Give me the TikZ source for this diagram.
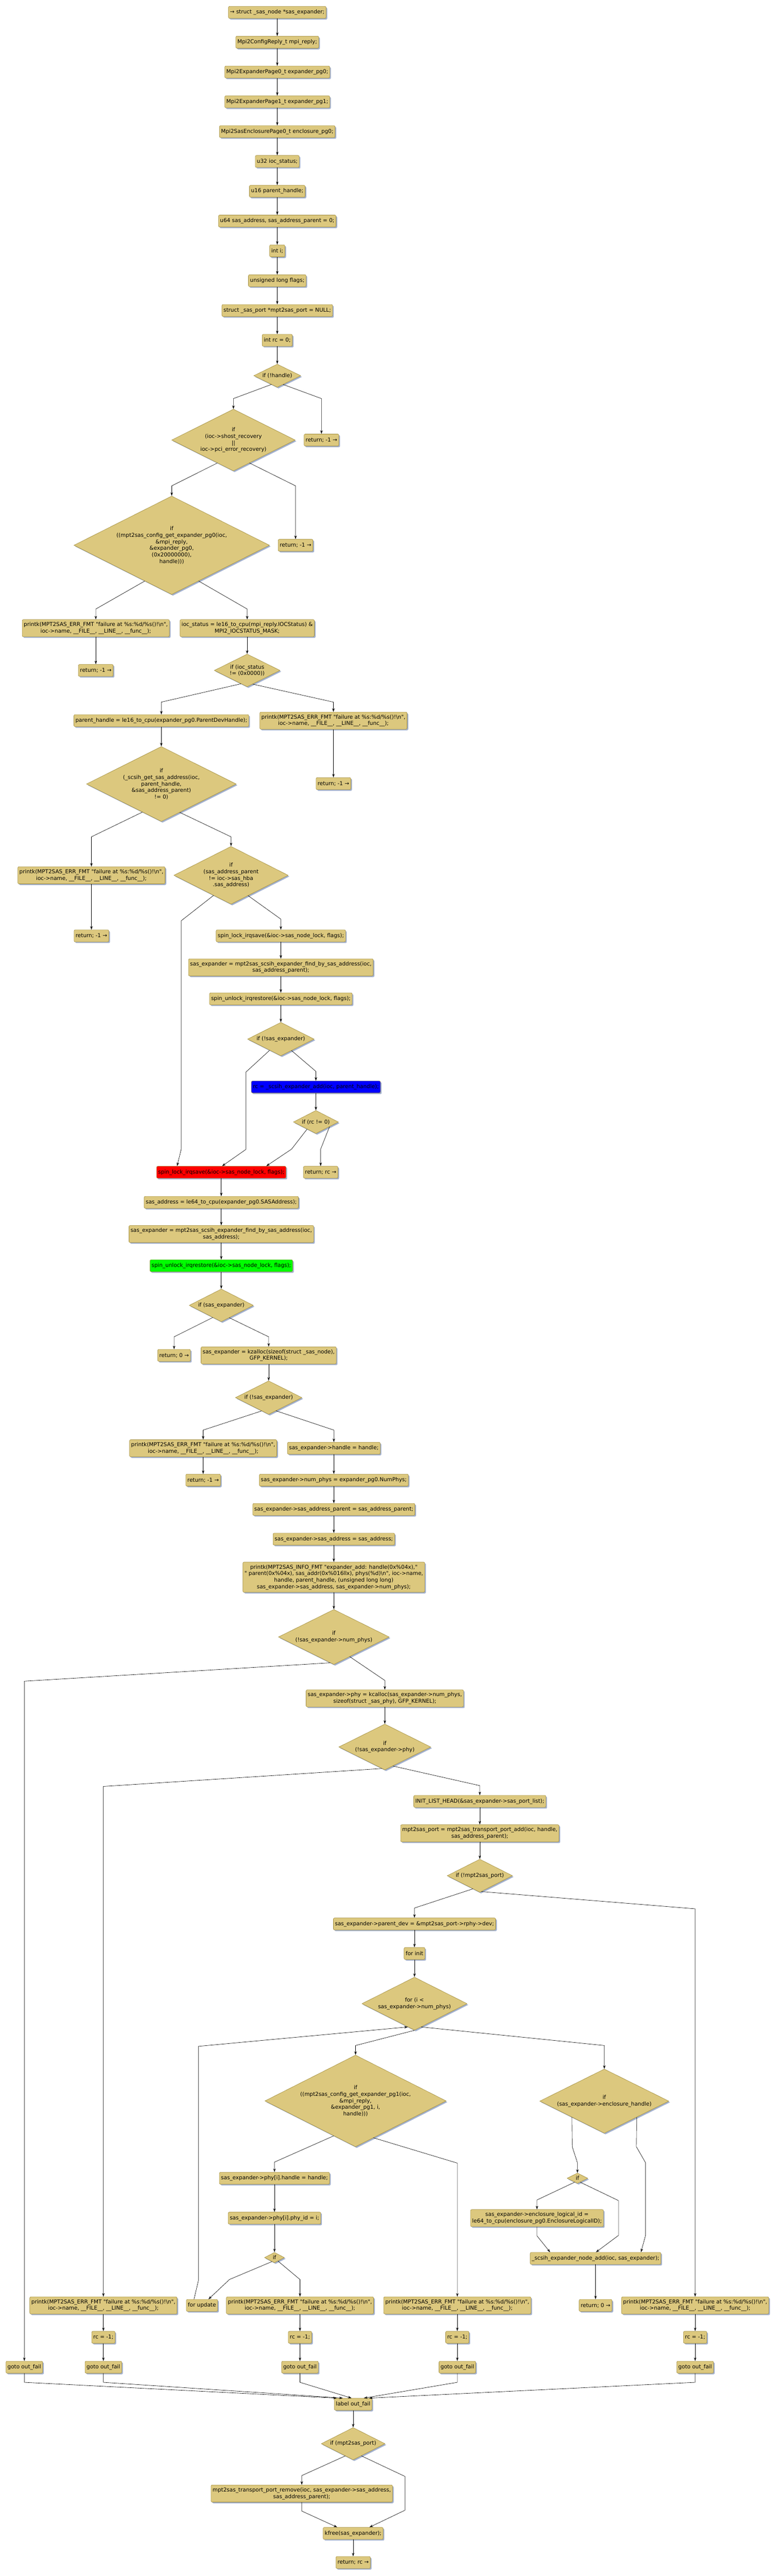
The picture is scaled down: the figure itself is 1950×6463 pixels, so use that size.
\documentclass[tikz,border=0pt]{standalone}
\usepackage{fontspec}
\newfontfamily\flowfont{DejaVu Sans}[Ligatures=ResetAll]
\usetikzlibrary{arrows.meta,positioning,shapes.geometric,shadows}
\definecolor{khaki}{RGB}{220,200,126}
\definecolor{khakiline}{RGB}{160,140,60}
\definecolor{shade}{RGB}{163,177,206}

\newcommand{\errmsg}{printk(MPT2SAS\_ERR\_FMT "failure at \%s:\%d/\%s()!\textbackslash n",\\ioc->name, \_\_FILE\_\_, \_\_LINE\_\_, \_\_func\_\_);}

\begin{document}
\begin{tikzpicture} [x=1pt,y=-1pt,->,>={Stealth[length=9pt,width=6pt]},line width=0.8pt,node distance=44pt,
  font=\flowfont\fontsize{13.5}{16.4}\selectfont,
  stmt/.style={rectangle,rounded corners=3pt,draw=khakiline,fill=khaki,minimum height=30pt,inner xsep=4pt,inner ysep=6.5pt,align=center,
    drop shadow={shadow xshift=3pt,shadow yshift=-3pt,fill=shade,opacity=1}},
  cond/.style={diamond,aspect=2,draw=khakiline,fill=khaki,inner sep=0pt,align=center,
    drop shadow={shadow xshift=3pt,shadow yshift=-3pt,fill=shade,opacity=1}}]

  \useasboundingbox (0,0) rectangle (1950,6463);

  \node[stmt] (b1) at (696,31) {→ struct \_sas\_node *sas\_expander;};
  \node[stmt] (b2) [below=of b1] {Mpi2ConfigReply\_t mpi\_reply;};
  \node[stmt] (b3) [below=of b2] {Mpi2ExpanderPage0\_t expander\_pg0;};
  \node[stmt] (b4) [below=of b3] {Mpi2ExpanderPage1\_t expander\_pg1;};
  \node[stmt] (b5) [below=of b4] {Mpi2SasEnclosurePage0\_t enclosure\_pg0;};
  \node[stmt] (b6) [below=of b5] {u32 ioc\_status;};
  \node[stmt] (b7) [below=of b6] {u16 parent\_handle;};
  \node[stmt] (b8) [below=of b7] {u64 sas\_address, sas\_address\_parent = 0;};
  \node[stmt] (b9) [below=of b8] {int i;};
  \node[stmt] (b10) [below=of b9] {unsigned long flags;};
  \node[stmt] (b11) [below=of b10] {struct \_sas\_port *mpt2sas\_port = NULL;};
  \node[stmt] (b12) [below=of b11] {int rc = 0;};
  \node[cond] (d1) [below=of b12, minimum width=118pt, minimum height=58pt] {if (!handle)};

  \node[cond, minimum width=310pt, minimum height=155pt] (d2) at (586,1104) {if\\(ioc->shost\_recovery\\||\\ioc->pci\_error\_recovery)};
  \node[stmt] (r1) at (807,1104) {return; -1 →};
  \node[cond, minimum width=491pt, minimum height=247pt] (d3) at (431,1368) {if\\((mpt2sas\_config\_get\_expander\_pg0(ioc,\\\&mpi\_reply,\\\&expander\_pg0,\\(0x20000000),\\handle)))};
  \node[stmt] (r2) at (742,1368) {return; -1 →};
  \node[stmt] (p1) at (240.5,1576) {\errmsg};
  \node[stmt] (s1) at (620.5,1576) {ioc\_status = le16\_to\_cpu(mpi\_reply.IOCStatus) \&\\MPI2\_IOCSTATUS\_MASK;};
  \node[stmt] (r3) at (240.5,1682) {return; -1 →};
  \node[cond, minimum width=165pt, minimum height=82pt] (d4) at (620.5,1682) {if (ioc\_status\\!= (0x0000))};
  \node[stmt] (s2) at (405,1808) {parent\_handle = le16\_to\_cpu(expander\_pg0.ParentDevHandle);};
  \node[stmt] (p2) at (837,1808) {\errmsg};
  \node[cond, minimum width=376pt, minimum height=188pt] (d5) at (405,1967) {if\\(\_scsih\_get\_sas\_address(ioc,\\parent\_handle,\\\&sas\_address\_parent)\\!= 0)};
  \node[stmt] (r4) at (837,1966) {return; -1 →};
  \node[stmt] (p3) at (229.5,2196) {\errmsg};
  \node[cond, minimum width=287pt, minimum height=145pt] (d6) at (580,2196) {if\\(sas\_address\_parent\\!= ioc->sas\_hba\\.sas\_address)};
  \node[stmt] (r5) at (229.5,2348) {return; -1 →};
  \node[stmt] (s3) at (705,2348) {spin\_lock\_irqsave(\&ioc->sas\_node\_lock, flags);};
  \node[stmt] (s4) at (705,2427) {sas\_expander = mpt2sas\_scsih\_expander\_find\_by\_sas\_address(ioc,\\sas\_address\_parent);};
  \node[stmt] (s5) at (705,2506) {spin\_unlock\_irqrestore(\&ioc->sas\_node\_lock, flags);};
  \node[cond, minimum width=167pt, minimum height=84pt] (d7) at (705,2607) {if (!sas\_expander)};
  \node[stmt, fill=blue] (s6) at (793,2727) {rc = \_scsih\_expander\_add(ioc, parent\_handle);};
  \node[cond, minimum width=113pt, minimum height=58pt] (d8) at (793,2815) {if (rc != 0)};
  \node[stmt, fill=red] (s7) at (555.5,2941) {spin\_lock\_irqsave(\&ioc->sas\_node\_lock, flags);};
  \node[stmt] (r6) at (805,2941) {return; rc →};
  \node[stmt] (s8) at (555.5,3016.5) {sas\_address = le64\_to\_cpu(expander\_pg0.SASAddress);};
  \node[stmt] (s9) at (555.5,3096) {sas\_expander = mpt2sas\_scsih\_expander\_find\_by\_sas\_address(ioc,\\sas\_address);};
  \node[stmt, fill=green] (s10) at (555.5,3175.5) {spin\_unlock\_irqrestore(\&ioc->sas\_node\_lock, flags);};
  \node[cond, minimum width=161pt, minimum height=82pt] (d9) at (555.5,3275) {if (sas\_expander)};
  \node[stmt] (r7) at (437,3400.5) {return; 0 →};
  \node[stmt] (s11) at (674.5,3400.5) {sas\_expander = kzalloc(sizeof(struct \_sas\_node),\\GFP\_KERNEL);};
  \node[cond, minimum width=167pt, minimum height=84pt] (d10) at (674.5,3506.5) {if (!sas\_expander)};
  \node[stmt] (p4) at (510,3633.5) {\errmsg};
  \node[stmt] (s12) at (838,3633.5) {sas\_expander->handle = handle;};
  \node[stmt] (r8) at (510,3713.5) {return; -1 →};
  \node[stmt] (s13) at (838,3713.5) {sas\_expander->num\_phys = expander\_pg0.NumPhys;};
  \node[stmt] (s14) at (838,3787) {sas\_expander->sas\_address\_parent = sas\_address\_parent;};
  \node[stmt] (s15) at (838,3861.5) {sas\_expander->sas\_address = sas\_address;};
  \node[stmt] (s16) at (838,3957) {printk(MPT2SAS\_INFO\_FMT "expander\_add: handle(0x\%04x),"\\" parent(0x\%04x), sas\_addr(0x\%016llx), phys(\%d)\textbackslash n", ioc->name,\\handle, parent\_handle, (unsigned long long)\\sas\_expander->sas\_address, sas\_expander->num\_phys);};
  \node[cond, minimum width=278pt, minimum height=138pt] (d11) at (838,4107) {if\\(!sas\_expander->num\_phys)};
  \node[stmt] (s17) at (966,4261) {sas\_expander->phy = kcalloc(sas\_expander->num\_phys,\\sizeof(struct \_sas\_phy), GFP\_KERNEL);};
  \node[cond, minimum width=231pt, minimum height=115pt] (d12) at (966,4383) {if\\(!sas\_expander->phy)};
  \node[stmt] (s18) at (1204.5,4519.5) {INIT\_LIST\_HEAD(\&sas\_expander->sas\_port\_list);};
  \node[stmt] (s19) at (1204.5,4599.5) {mpt2sas\_port = mpt2sas\_transport\_port\_add(ioc, handle,\\sas\_address\_parent);};
  \node[cond, minimum width=164pt, minimum height=83pt] (d13) at (1204.5,4706) {if (!mpt2sas\_port)};
  \node[stmt] (s20) at (1040.5,4827) {sas\_expander->parent\_dev = \&mpt2sas\_port->rphy->dev;};
  \node[stmt] (s21) at (1040.5,4901) {for init};
  \node[cond, minimum width=264pt, minimum height=133pt] (d14) at (1040.5,5027) {for (i <\\sas\_expander->num\_phys)};
  \node[cond, minimum width=455pt, minimum height=230pt] (d15) at (892.5,5271) {if\\((mpt2sas\_config\_get\_expander\_pg1(ioc,\\\&mpi\_reply,\\\&expander\_pg1, i,\\handle)))};
  \node[cond, minimum width=324pt, minimum height=161pt] (d16) at (1517,5271.5) {if\\(sas\_expander->enclosure\_handle)};
  \node[stmt] (s22) at (689,5465) {sas\_expander->phy[i].handle = handle;};
  \node[cond, minimum width=52pt, minimum height=26pt] (d17) at (1449.5,5465) {if};
  \node[stmt] (s23) at (689,5565) {sas\_expander->phy[i].phy\_id = i;};
  \node[stmt] (s24) at (1348,5565) {sas\_expander->enclosure\_logical\_id =\\le64\_to\_cpu(enclosure\_pg0.EnclosureLogicalID);};
  \node[cond, minimum width=50pt, minimum height=26pt] (d18) at (689,5664) {if};
  \node[stmt] (s25) at (1495,5666) {\_scsih\_expander\_node\_add(ioc, sas\_expander);};
  \node[stmt] (p5) at (259.5,5784) {\errmsg};
  \node[stmt] (f1) at (507,5784) {for update};
  \node[stmt] (p6) at (753,5784) {\errmsg};
  \node[stmt] (p7) at (1148,5784) {\errmsg};
  \node[stmt] (r9) at (1495,5784) {return; 0 →};
  \node[stmt] (p8) at (1745,5784) {\errmsg};
  \foreach \x/\n in {259.5/1,753/2,1148/3,1745/4} {
    \node[stmt] (c\n) at (\x,5864) {rc = -1;};
    \node[stmt] (g\n) at (\x,5939) {goto out\_fail};
  }
  \node[stmt] (g0) at (61,5939) {goto out\_fail};
  \node[stmt] (l1) at (886.5,6032) {label out\_fail};
  \node[cond, minimum width=160pt, minimum height=81pt] (d19) at (886.5,6131) {if (mpt2sas\_port)};
  \node[stmt] (s26) at (757.5,6256) {mpt2sas\_transport\_port\_remove(ioc, sas\_expander->sas\_address,\\sas\_address\_parent);};
  \node[stmt] (s27) at (886.5,6356) {kfree(sas\_expander);};
  \node[stmt] (r10) at (886.5,6429) {return; rc →};

  % straight runs
  \foreach \a/\b in {b1/b2,b2/b3,b3/b4,b4/b5,b5/b6,b6/b7,b7/b8,b8/b9,b9/b10,b10/b11,b11/b12,b12/d1,
      p1/r3,s1/d4,s2/d5,p2/r4,p3/r5,s3/s4,s4/s5,s5/d7,s6/d8,s7/s8,s8/s9,s9/s10,s10/d9,s11/d10,p4/r8,
      s12/s13,s13/s14,s14/s15,s15/s16,s16/d11,s17/d12,s18/s19,s19/d13,s20/s21,s21/d14,s22/s23,s23/d18,
      s25/r9,p5/c1,c1/g1,p6/c2,c2/g2,p7/c3,c3/g3,p8/c4,c4/g4,l1/d19,s27/r10}
    \draw (\a) -- (\b);

  % branches
  \draw (d1.-124) -- (586,1000) -- (d2);
  \draw (d1.-56) -- (807,1000) -- (r1);
  \draw (d2.-125) -- (431,1219) -- (d3);
  \draw (d2.-55) -- (742,1219) -- (r2);
  \draw (d3.-127) -- (240.5,1528) -- (p1);
  \draw (d3.-53) -- (620.5,1528) -- (s1);
  \draw (d4.-115) -- (405,1761.5) -- (s2);
  \draw (d4.-68) -- (837,1761.5) -- (p2);
  \draw (d5.-124) -- (229.5,2099.5) -- (p3);
  \draw (d5.-57) -- (580,2099.5) -- (d6);
  \draw (d6.-131) -- (455,2310) -- (455,2883) -- ([xshift=-111pt]s7.north);
  \draw (d6.-50) -- (705,2306) -- (s3);
  \draw (d7.-135) -- (617,2690) -- (617,2884) -- ([xshift=2pt]s7.north);
  \draw (d7.-47) -- (793,2688) -- (s6);
  \draw (d8.-141) -- (732,2883) -- ([xshift=113pt]s7.north);
  \draw (d8.-19) -- (805,2883) -- (r6);
  \draw (d9.-125) -- (437,3354) -- (r7);
  \draw (d9.-57) -- (674.5,3354) -- (s11);
  \draw (d10.-118) -- (510,3588) -- (p4);
  \draw (d10.-61) -- (838,3588) -- (s12);
  \draw (d11.-98) -- (61,4218) -- (g0);
  \draw (d11.-51) -- (966,4216) -- (s17);
  \draw (d12.-98) -- (259.5,4482) -- (p5);
  \draw (d12.-67) -- (1204.5,4480) -- (s18);
  \draw (d13.-118) -- (1040.5,4787) -- (s20);
  \draw (d13.-84) -- (1745,4789) -- (p8);
  \draw (d14.south) -- (892.5,5132) -- (d15);
  \draw (d14.-74) -- (1517,5132) -- (d16);
  \draw (d15.-122) -- (689,5424.5) -- (s22);
  \draw (d15.-64) -- (1148,5427) -- (p7);
  \draw (d16.south west) -- (1436.5,5386) -- (1449.5,5426) -- (d17);
  \draw (d16.south east) -- (1597.5,5386) -- (1620.5,5426) -- (1620.5,5608.5) -- ([xshift=114pt]s25.north);
  \draw (d17.-125) -- (1348,5519.5) -- (s24);
  \draw (d17.-55) -- (1552.5,5521) -- (1552.5,5608.5) -- ([xshift=1pt]s25.north);
  \draw (s24) -- (1348,5609.5) -- ([xshift=-114pt]s25.north);
  \draw (d18.-122) -- (576,5719) -- (f1);
  \draw (d18.-45) -- (753,5719) -- (p6);
  \draw ([xshift=-20pt]f1.north) -- (498,5722) -- (498,5134) -- (d14.-106);

  % to the exit label
  \draw (g0) -- (61,5977) -- ([xshift=-41pt]l1.north);
  \draw (g1) -- (259.5,5977) -- ([xshift=-26pt]l1.north);
  \draw (g2) -- (753,5977) -- ([xshift=-4pt]l1.north);
  \draw (g3) -- (1148,5977) -- ([xshift=27pt]l1.north);
  \draw (g4) -- (1745,5977) -- ([xshift=40pt]l1.north);
  \draw (d19.-123) -- (757.5,6211) -- (s26);
  \draw (d19.-56) -- (1016.5,6213) -- (1016.5,6298) -- ([xshift=41pt]s27.north);
  \draw (s26) -- (757.5,6300) -- ([xshift=-40pt]s27.north);
\end{tikzpicture}
\end{document}
